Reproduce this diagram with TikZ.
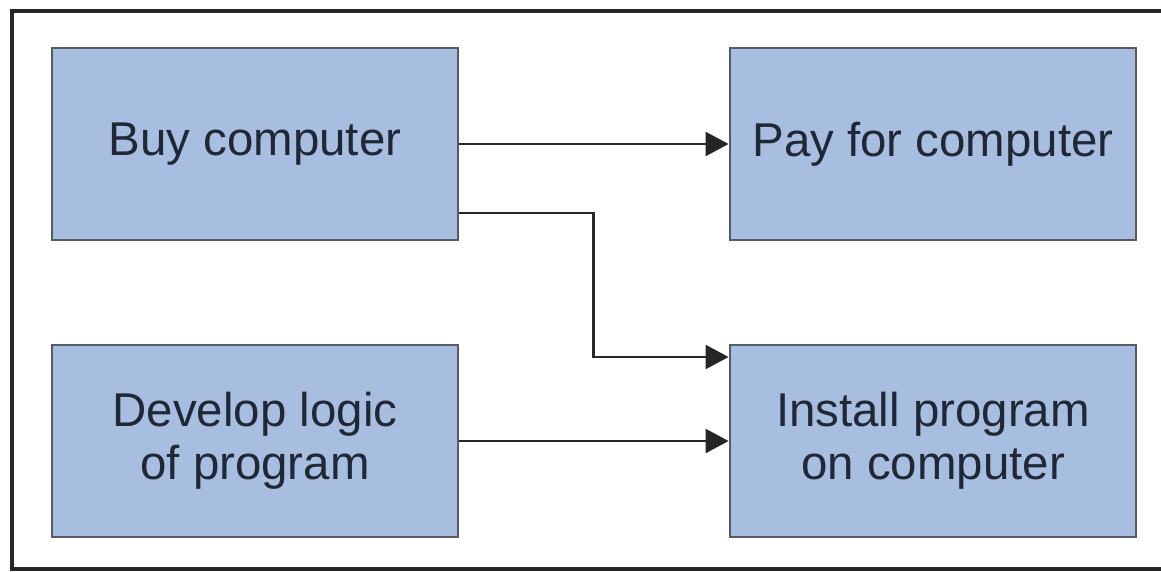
\documentclass[tikz,border=0pt]{standalone}
\usepackage{fontspec}
\setmainfont{Liberation Sans}
\usetikzlibrary{arrows.meta}

\definecolor{boxfill}{RGB}{168,190,224}
\definecolor{boxline}{RGB}{85,90,100}
\definecolor{boxtext}{RGB}{32,40,54}

\begin{document}
\begin{tikzpicture}[
    % Common Styles
    task/.style={
        rectangle,
        fill=boxfill,
        draw=boxline,
        line width=1.6pt,
        minimum width=8.12cm,
        minimum height=3.84cm,
        align=center,
        text=boxtext,
        font=\fontsize{27}{30}\selectfont
    },
    link/.style={
        black!85,
        line width=1.3pt,
        -{Triangle[length=0.46cm,width=0.48cm]}
    },
    frame/.style={
        black!85,
        line width=2pt
    }
]

    % ================= CANVAS =================
    \useasboundingbox (0,0) rectangle (23.22,11.42);
    \draw[frame] (23.4,11.2) -- (0.24,11.2) -- (0.24,0.04) -- (23.4,0.04);

    % ================= TASKS =================
    % Top row
    \node[task] (buy) at (5.10,8.54) {Buy computer};
    \node[task] (pay) at (18.66,8.54) {Pay for computer};

    % Bottom row
    \node[task] (develop) at (5.10,2.60) {Develop logic\\of program};
    \node[task] (install) at (18.66,2.60) {Install program\\on computer};

    % ================= LINKS =================
    \draw[link] (buy.east) -- (pay.west);
    \draw[link] ([yshift=-1.38cm]buy.east) -- ++(2.68,0) |- ([yshift=1.68cm]install.west);
    \draw[link] (develop.east) -- (install.west);

\end{tikzpicture}
\end{document}
